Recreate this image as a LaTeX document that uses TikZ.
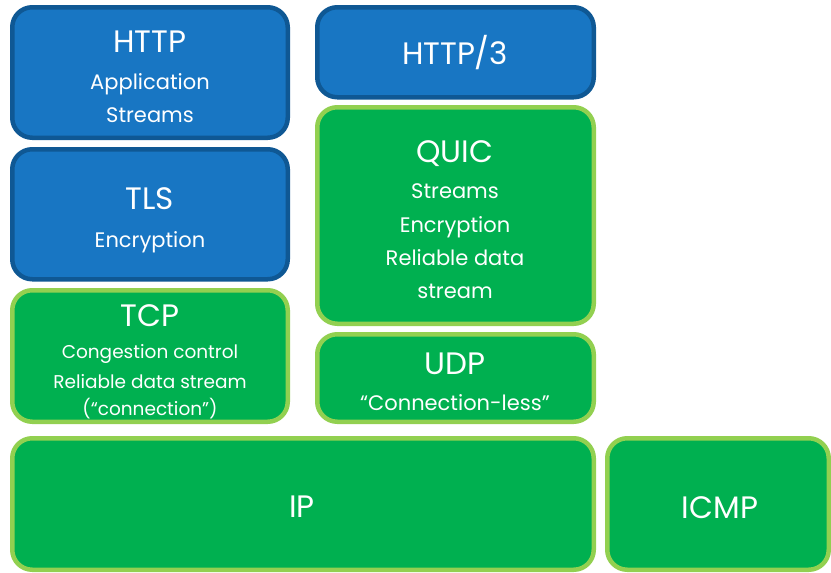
\documentclass[tikz,border=0pt]{standalone}
\usepackage{fontspec}
\setmainfont{Poppins}
\definecolor{bfill}{HTML}{1876C3}
\definecolor{bline}{HTML}{0F5894}
\definecolor{gfill}{HTML}{00B050}
\definecolor{gline}{HTML}{92D050}
\begin{document}
\begin{tikzpicture}[x=1pt,y=-1pt,
  layer/.style={rounded corners=20pt, line width=4.5pt, inner sep=0pt, outer sep=0pt},
  bluebox/.style={layer, draw=bline, fill=bfill},
  greenbox/.style={layer, draw=gline, fill=gfill},
  ttl/.style={text=white, anchor=base, inner sep=0pt, font=\fontsize{31}{36}\selectfont},
  sub/.style={text=white, anchor=base, inner sep=0pt, font=\fontsize{21}{26}\selectfont},
  small/.style={text=white, anchor=base, inner sep=0pt, font=\fontsize{18.5}{22}\selectfont}]
\useasboundingbox (0,0) rectangle (831,573);
% boxes (path centred on border)
\path[bluebox] (12.25,7.25) rectangle (287.75,137.75) coordinate (httpse);
\node[ttl] (http) at (150,52) {HTTP};
\node[sub] (httpa) at (150,89) {Application};
\node[sub] (https) at (150,122) {Streams};

\path[bluebox] (12.25,149.25) rectangle (287.75,279.25);
\node[ttl] (tls) at (150,209) {TLS};
\node[sub] (tlse) at (150,247) {Encryption};

\path[greenbox] (12.25,290.25) rectangle (287.75,421.75);
\node[ttl] (tcp) at (150,326) {TCP};
\node[small] (tcp1) at (150,358) {Congestion control};
\node[small] (tcp2) at (150,388) {Reliable data stream};
\node[small] (tcp3) at (150,415) {(“connection”)};

\path[bluebox] (317.25,7.25) rectangle (593.75,97.25);
\node[ttl] (http3) at (455,64) {HTTP/3};

\path[greenbox] (317.25,107.25) rectangle (593.75,323.75);
\node[ttl] (quic) at (455,162) {QUIC};
\node[sub] (quic1) at (455,198) {Streams};
\node[sub] (quic2) at (455,232) {Encryption};
\node[sub] (quic3) at (455,265) {Reliable data};
\node[sub] (quic4) at (455,298) {stream};

\path[greenbox] (317.25,334.25) rectangle (593.75,421.75);
\node[ttl] (udp) at (455,374) {UDP};
\node[sub] (udp1) at (455,410) {“Connection-less”};

\path[greenbox] (12.25,438.25) rectangle (593.75,569.75);
\node[ttl] (ip) at (302,517) {IP};

\path[greenbox] (607.25,438.25) rectangle (828.75,569.75);
\node[ttl] (icmp) at (720,518) {ICMP};
\end{tikzpicture}
\end{document}
